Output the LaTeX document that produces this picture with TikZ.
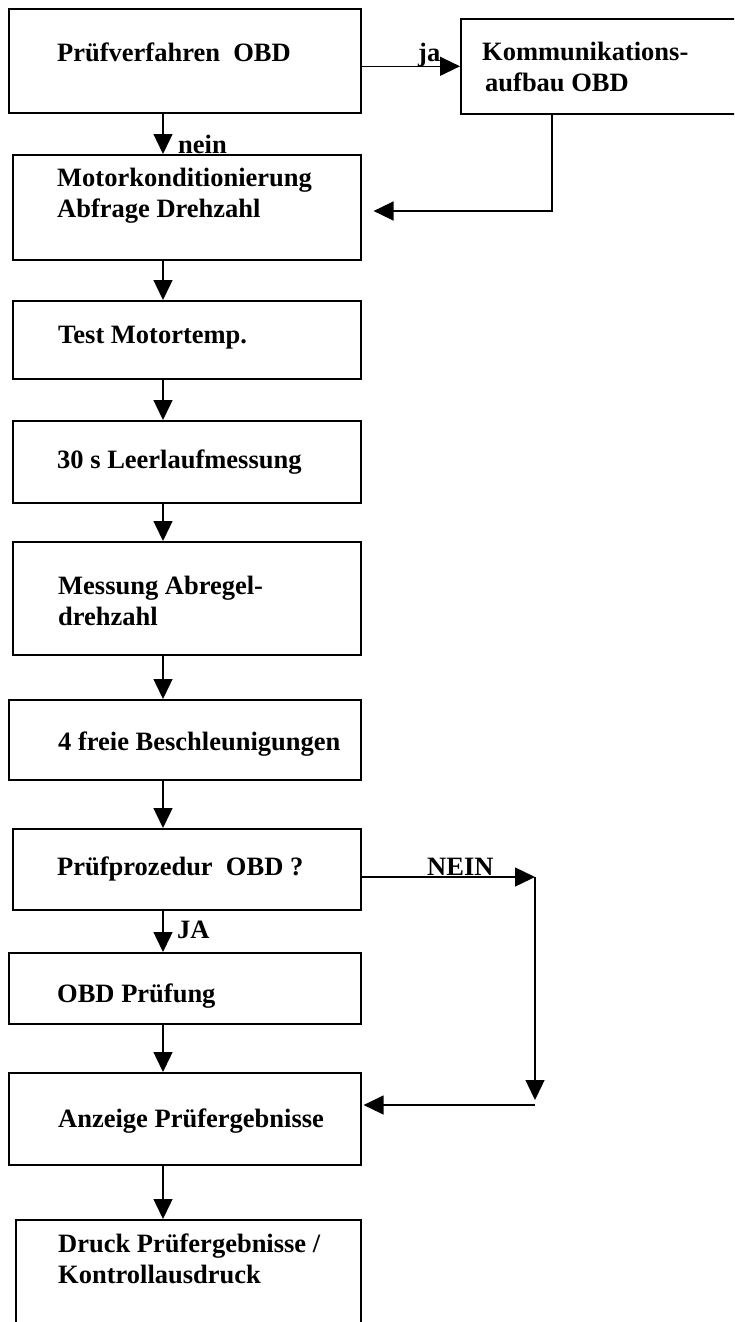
\documentclass[tikz,border=0pt]{standalone}
\usepackage{fontspec}
\setmainfont{Liberation Serif}
\usetikzlibrary{arrows.meta}
\tikzset{
	stepbox/.style={
		draw,
		line width=1.6pt,
		anchor=north west,
		inner sep=0pt
	},
	steptext/.style={
		anchor=base west,
		inner sep=0pt,
		align=left,
		font=\bfseries\fontsize{26.5}{31}\selectfont
	},
	flow/.style={
		line width=1.4pt,
		-{Triangle[length=20pt,width=19pt]}
	},
	chart/.style={x=1pt, y=-1pt}
}

\begin{document}
\begin{tikzpicture}[chart]
	\useasboundingbox (0,0) rectangle (734,1322);
	\clip (0,0) rectangle (734,1322);

	\node[stepbox, minimum width=352pt, minimum height=104pt] (b1) at (8,8) {};
	\node[stepbox, minimum width=300pt, minimum height=95pt] (kom) at (460,18) {};
	\node[stepbox, minimum width=348pt, minimum height=105pt] (b2) at (12,154) {};
	\node[stepbox, minimum width=348pt, minimum height=78pt] (b3) at (12,300) {};
	\node[stepbox, minimum width=348pt, minimum height=82pt] (b4) at (12,420) {};
	\node[stepbox, minimum width=348pt, minimum height=113pt] (b5) at (12,541) {};
	\node[stepbox, minimum width=352pt, minimum height=80pt] (b6) at (8,699) {};
	\node[stepbox, minimum width=348pt, minimum height=81pt] (b7) at (12,828) {};
	\node[stepbox, minimum width=352pt, minimum height=71pt] (b8) at (8,952) {};
	\node[stepbox, minimum width=352pt, minimum height=92pt] (b9) at (8,1072) {};
	\node[stepbox, minimum width=345pt, minimum height=140pt] (b10) at (15,1219) {};

	\node[steptext] (b1t) at (57,62) {Prüfverfahren\ \ OBD};
	\node[steptext] (komt) at (482,92) {Kommunikations-\\\hspace*{3pt}aufbau OBD};
	\node[steptext] (b2t) at (57,217) {Motorkonditionierung\\Abfrage Drehzahl};
	\node[steptext] (b3t) at (58,343) {Test Motortemp.};
	\node[steptext] (b4t) at (57,468) {30 s Leerlaufmessung};
	\node[steptext] (b5t) at (58,625) {Messung Abregel-\\drehzahl};
	\node[steptext] (b6t) at (58,750) {4 freie Beschleunigungen};
	\node[steptext] (b7t) at (57,875) {Prüfprozedur\ \ OBD ?};
	\node[steptext] (b8t) at (57,1002) {OBD Prüfung};
	\node[steptext] (b9t) at (58,1127) {Anzeige Prüfergebnisse};
	\node[steptext] (b10t) at (58,1283) {Druck Prüfergebnisse /\\Kontrollausdruck};

	\node[steptext] (ja) at (418,62) {ja};
	\node[steptext] (nein) at (178,153) {nein};
	\node[steptext] (NEIN) at (427,875) {NEIN};
	\node[steptext] (JA) at (177,938) {JA};

	\coordinate (trunk) at (163,0);
	\coordinate (komdown) at (552,211);
	\coordinate (nr) at (535,877);
	\coordinate (nd) at (535,1105);

	\draw[flow] (b1.east |- kom.west) -- (kom.west);
	\draw[flow] (kom.south -| komdown) |- ([xshift=12pt]b2.east |- komdown);
	\draw[flow] (b1.south -| trunk) -- (b2.north -| trunk);
	\draw[flow] (b2.south -| trunk) -- (b3.north -| trunk);
	\draw[flow] (b3.south -| trunk) -- (b4.north -| trunk);
	\draw[flow] (b4.south -| trunk) -- (b5.north -| trunk);
	\draw[flow] (b5.south -| trunk) -- (b6.north -| trunk);
	\draw[flow] (b6.south -| trunk) -- (b7.north -| trunk);
	\draw[flow] (b7.south -| trunk) -- (b8.north -| trunk);
	\draw[flow] (b8.south -| trunk) -- (b9.north -| trunk);
	\draw[flow] (b9.south -| trunk) -- (b10.north -| trunk);
	\draw[flow] (b7.east |- nr) -- (nr);
	\draw[flow] (nr) -- ([yshift=5pt]nd);
	\draw[flow] (nd) -- ([xshift=2pt]b9.east |- nd);
\end{tikzpicture}
\end{document}
